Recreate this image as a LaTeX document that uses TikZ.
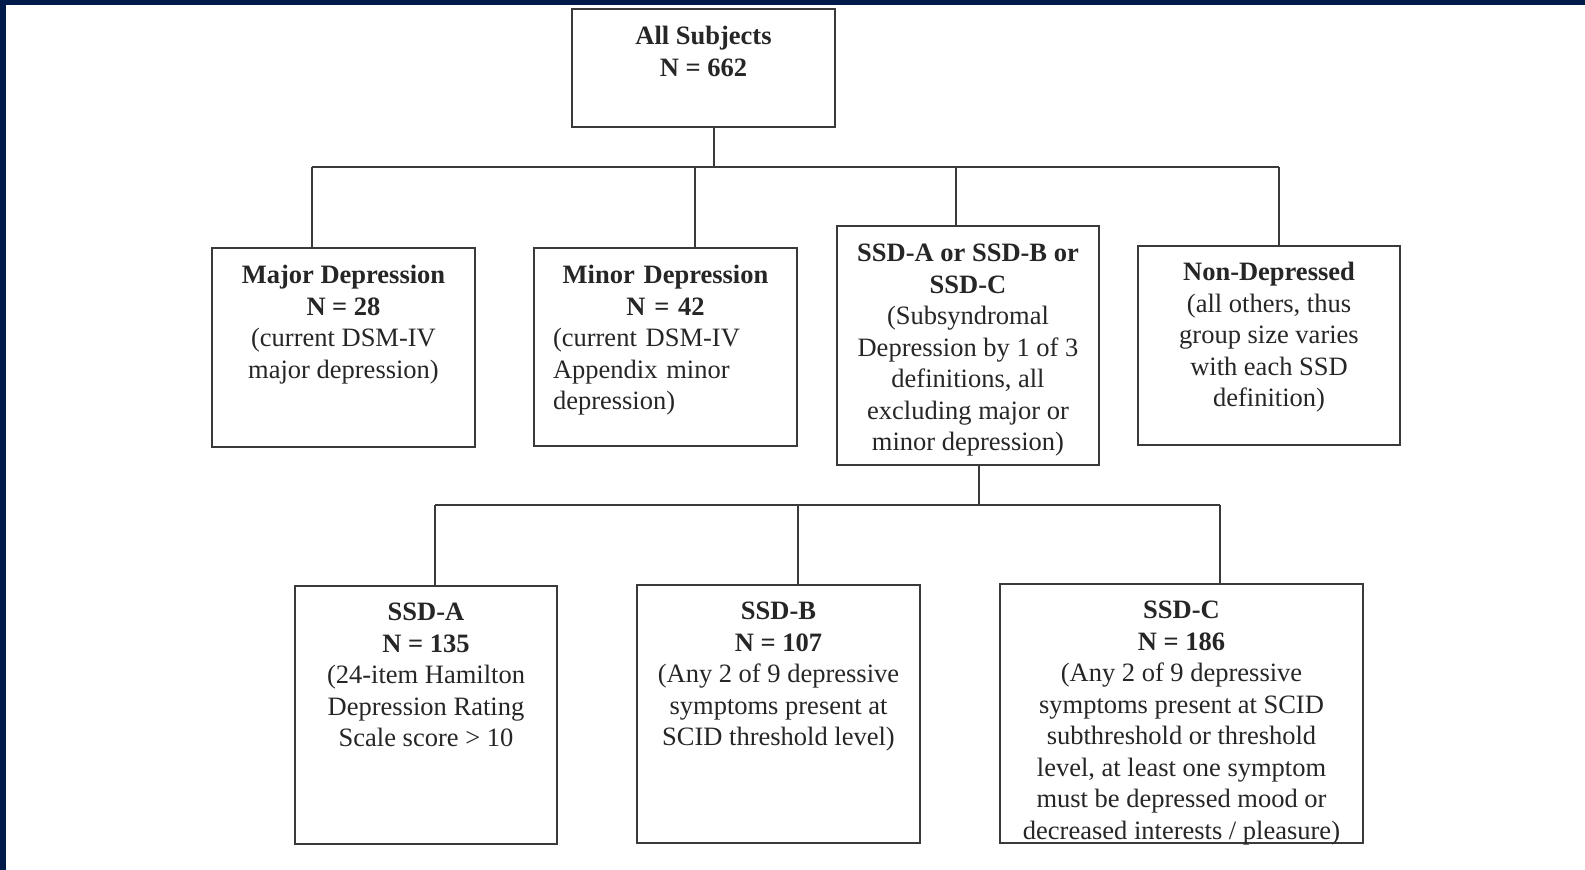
\documentclass[tikz,border=0pt]{standalone}
\usepackage{fontspec}
\setmainfont{Liberation Serif}
\definecolor{navy}{HTML}{001A4A}
\definecolor{ink}{HTML}{3A3A3A}
\tikzset{
  box/.style={draw=ink, line width=2.2pt, fill=white, inner sep=0pt, outer sep=0pt, anchor=north west},
  conn/.style={draw=ink, line width=2pt},
  txt/.style={anchor=north, inner sep=0pt, align=center, font=\fontsize{26.5pt}{31.5pt}\selectfont, text=black!85},
}
\begin{document}
\begin{tikzpicture}[x=1pt,y=-1pt]
\useasboundingbox (0,0) rectangle (1585,870);
\fill[white] (0,0) rectangle (1585,870);
\fill[navy] (0,0) rectangle (6,870);
\fill[navy] (0,0) rectangle (1585,5);

% boxes
\node[box, minimum width=263pt, minimum height=118pt] (top) at (572,9) {};
\node[box, minimum width=263pt, minimum height=199pt] (major) at (212,248) {};
\node[box, minimum width=263pt, minimum height=198pt] (minor) at (534,248) {};
\node[box, minimum width=262pt, minimum height=239pt] (ssd) at (837,226) {};
\node[box, minimum width=262pt, minimum height=199pt] (nondep) at (1138,246) {};
\node[box, minimum width=262pt, minimum height=258pt] (ssda) at (295,586) {};
\node[box, minimum width=283pt, minimum height=258pt] (ssdb) at (637,585) {};
\node[box, minimum width=363pt, minimum height=259pt] (ssdc) at (1000,584) {};

% junction coordinates
\coordinate (s1) at (714,167);
\coordinate (j1) at (312,167);
\coordinate (j2) at (695,167);
\coordinate (j3) at (956,167);
\coordinate (j4) at (1279,167);
\coordinate (s2) at (979,505);
\coordinate (k1) at (435,505);
\coordinate (k2) at (798,505);
\coordinate (k3) at (1220,505);

% connectors
\draw[conn] (top.south -| s1) -- (s1);
\draw[conn] (j1) -- (j4);
\draw[conn] (j1) -- (j1 |- major.north);
\draw[conn] (j2) -- (j2 |- minor.north);
\draw[conn] (j3) -- (j3 |- ssd.north);
\draw[conn] (j4) -- (j4 |- nondep.north);
\draw[conn] (ssd.south -| s2) -- (s2);
\draw[conn] (k1) -- (k3);
\draw[conn] (k1) -- (k1 |- ssda.north);
\draw[conn] (k2) -- (k2 |- ssdb.north);
\draw[conn] (k3) -- (k3 |- ssdc.north);

% texts
\node[txt] (ttop) at ([yshift=-17pt]top.north) {\textbf{All Subjects}\\ \textbf{N = 662}};
\node[txt] (tmajor) at ([yshift=-17pt]major.north) {\textbf{Major Depression}\\ \textbf{N = 28}\\ (current DSM-IV\\ major depression)};
\node[txt, text width=225pt, align=left] (tminor) at ([yshift=-17pt]minor.north) {\makebox[\linewidth]{\textbf{Minor Depression}}\\ \makebox[\linewidth]{\textbf{N = 42}}\\ (current DSM-IV\\ Appendix minor\\ depression)};
\node[txt] (tssd) at ([yshift=-18pt]ssd.north) {\textbf{SSD-A or SSD-B or}\\ \textbf{SSD-C}\\ (Subsyndromal\\ Depression by 1 of 3\\ definitions, all\\ excluding major or\\ minor depression)};
\node[txt] (tnondep) at ([yshift=-16pt]nondep.north) {\textbf{Non-Depressed}\\ (all others, thus\\ group size varies\\ with each SSD\\ definition)};
\node[txt] (tssda) at ([yshift=-17pt]ssda.north) {\textbf{SSD-A}\\ \textbf{N = 135}\\ (24-item Hamilton\\ Depression Rating\\ Scale score > 10};
\node[txt] (tssdb) at ([yshift=-17pt]ssdb.north) {\textbf{SSD-B}\\ \textbf{N = 107}\\ (Any 2 of 9 depressive\\ symptoms present at\\ SCID threshold level)};
\node[txt] (tssdc) at ([yshift=-17pt]ssdc.north) {\textbf{SSD-C}\\ \textbf{N = 186}\\ (Any 2 of 9 depressive\\ symptoms present at SCID\\ subthreshold or threshold\\ level, at least one symptom\\ must be depressed mood or\\ decreased interests / pleasure)};
\end{tikzpicture}
\end{document}
